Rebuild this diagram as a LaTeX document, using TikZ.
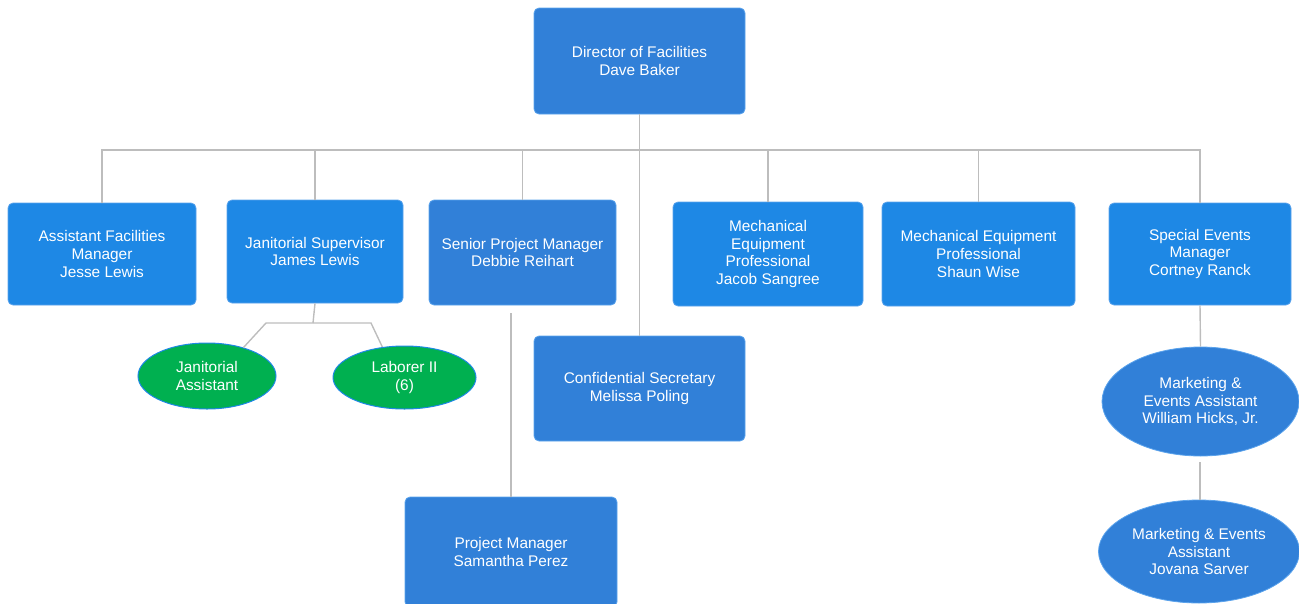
\documentclass[tikz,border=0pt]{standalone}
\usepackage{fontspec}
\setmainfont{Liberation Sans}
\usetikzlibrary{shapes.geometric}
\definecolor{bdark}{HTML}{3180D8}
\definecolor{bbright}{HTML}{1E88E5}
\definecolor{bedge}{HTML}{5BA3EC}
\definecolor{gfill}{HTML}{00B050}
\definecolor{lnc}{HTML}{BDBDBD}
\tikzset{
  every node/.style={font=\fontsize{15.4}{17.6}\selectfont, text=white, align=center, inner sep=0pt},
  boxd/.style={rectangle, rounded corners=5pt, fill=bdark, draw=bedge, line width=0.8pt},
  boxb/.style={rectangle, rounded corners=5pt, fill=bbright, draw=bedge, line width=0.8pt},
  ellb/.style={ellipse, fill=bdark, draw=bedge, line width=0.8pt},
  ellg/.style={ellipse, fill=gfill, draw=bbright, line width=1pt},
  conn/.style={draw=lnc, line width=1.4pt}
}
\begin{document}
\begin{tikzpicture}[x=1pt,y=-1pt]
\useasboundingbox (0,0) rectangle (1299,603);
\node[boxd, minimum width=211pt, minimum height=106pt] (dir) at (639.5,61) {Director of Facilities\\Dave Baker};
\node[boxb, minimum width=188pt, minimum height=102pt] (afm) at (102,254) {Assistant Facilities\\Manager\\Jesse Lewis};
\node[boxb, minimum width=176pt, minimum height=103pt] (js) at (315,251.5) {Janitorial Supervisor\\James Lewis};
\node[boxd, minimum width=187pt, minimum height=105pt] (spm) at (522.5,252.5) {Senior Project Manager\\Debbie Reihart};
\node[boxb, minimum width=190pt, minimum height=104pt] (mej) at (768,254) {Mechanical\\Equipment\\Professional\\Jacob Sangree};
\node[boxb, minimum width=193pt, minimum height=104pt] (mes) at (978.5,254) {Mechanical Equipment\\Professional\\Shaun Wise};
\node[boxb, minimum width=182pt, minimum height=102pt] (se) at (1200,254) {Special Events\\Manager\\Cortney Ranck};
\node[boxd, minimum width=211pt, minimum height=105pt] (sec) at (639.5,388.5) {Confidential Secretary\\Melissa Poling};
\node[boxd, minimum width=212pt, minimum height=110pt] (pm) at (511,552) {Project Manager\\Samantha Perez};
\node[ellg, minimum width=138pt, minimum height=66pt] (ja) at (207,376) {Janitorial\\Assistant};
\node[ellg, minimum width=143pt, minimum height=63pt] (lab) at (404.5,377.5) {Laborer II\\(6)};
\node[ellb, minimum width=197pt, minimum height=109pt] (mw) at (1200.5,401.5) {Marketing \&\\Events Assistant\\William Hicks, Jr.};
\node[ellb, minimum width=201pt, minimum height=103pt] (mj) at (1199,551.5) {Marketing \& Events\\Assistant\\Jovana Sarver};

\coordinate (bus) at (0,150);
\draw[conn] (afm.north) |- (bus -| se.north) -- (se.north);
\draw[conn] (js.north) -- (js.north |- bus);
\draw[conn] (spm.north) -- (spm.north |- bus);
\draw[conn] (mej.north) -- (mej.north |- bus);
\draw[conn] (mes.north) -- (mes.north |- bus);
\draw[conn] (dir.south) -- (sec.north);

\coordinate (jsb) at (313,323);
\coordinate (jl) at (266,323);
\coordinate (jr) at (371,323);
\draw[conn] (js.south) -- (jsb);
\draw[conn] (ja.38) -- (jl) -- (jr) -- (lab.126);

\coordinate (spmb) at (511,313);
\draw[conn] (spmb) -- (pm.north);

\draw[conn] (se.south) -- (mw.north);
\coordinate (mwb) at (1200,462);
\draw[conn] (mwb) -- (mj.north -| mwb);
\end{tikzpicture}
\end{document}
